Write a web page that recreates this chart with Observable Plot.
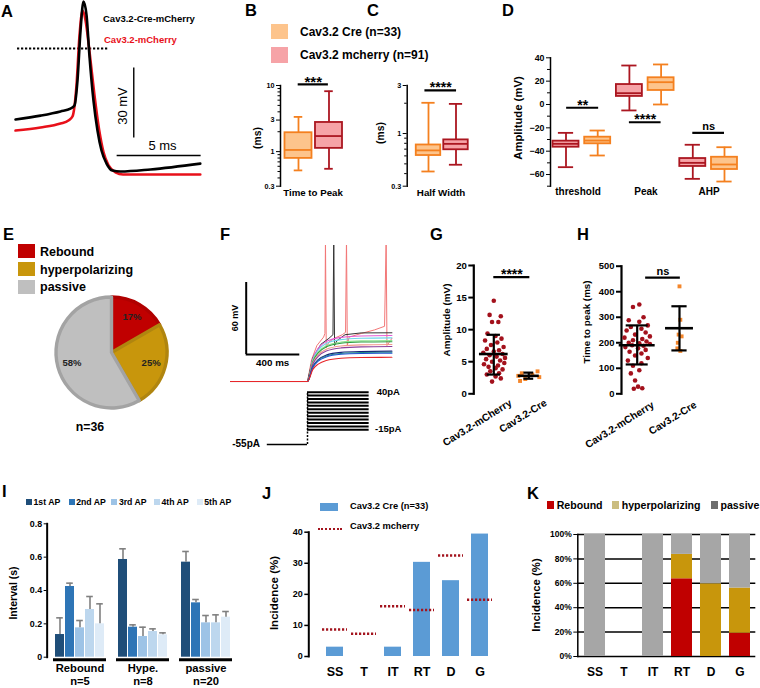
<!DOCTYPE html>
<html>
<head>
<meta charset="utf-8">
<script src="https://cdn.jsdelivr.net/npm/d3@7"></script>
<script src="https://cdn.jsdelivr.net/npm/@observablehq/plot@0.6"></script>
<style>
html,body{margin:0;padding:0;background:#fff;}
#fig{position:relative;width:760px;height:688px;overflow:hidden;background:#fff;font-family:"Liberation Sans",Arial,Helvetica,sans-serif;font-weight:bold;color:#000;}
</style>
</head>
<body>
<div id="fig"></div>
<script>
// ======================= DATA =======================
// A: action potential waveforms (time in ms, membrane potential in mV)
const apTimeCre = [0, 1.49, 2.68, 3.27, 3.51, 3.69, 3.87, 4.05, 4.23, 4.40, 4.64, 4.88, 5.12, 5.42, 5.77, 6.25, 8.04, 11.0];
const apVoltCre = [-30.5, -28.8, -27.0, -25.8, -24.5, -13.7, 7.7, 20.2, 14.2, -3.0, -22.3, -35.2, -43.8, -49.4, -52.4, -52.8, -51.9, -49.4];
const apTimeMch = [0, 1.49, 2.68, 3.15, 3.39, 3.63, 3.81, 3.99, 4.17, 4.40, 4.70, 4.98, 5.24, 5.54, 5.95, 6.40, 8.04, 11.0];
const apVoltMch = [-35.2, -33.9, -32.2, -30.9, -29.2, -15.9, 5.6, 16.3, 12.0, -1.0, -20.0, -35.0, -44.6, -50.2, -53.2, -54.1, -54.1, -54.1];

// B, C: box plots (Cre, mcherry)
const boxGroups = ["Cav3.2 Cre", "Cav3.2 mcherry"];
const ttpMin = [0.52, 0.55], ttpQ1 = [0.79, 1.12], ttpMed = [1.06, 1.72], ttpQ3 = [1.93, 2.76], ttpMax = [3.35, 8.2];
const hwMin = [0.42, 0.49], hwQ1 = [0.605, 0.69], hwMed = [0.68, 0.79], hwQ3 = [0.77, 0.865], hwMax = [2.02, 1.97];

// D: amplitude box plots per parameter
const dParams = ["threshold", "Peak", "AHP"];
const dMchMin = [-53.7, -5.1, -63.7], dMchQ1 = [-36.6, 6.9, -53.1], dMchMed = [-33.7, 9.7, -50.0], dMchQ3 = [-31.4, 17.1, -46.3], dMchMax = [-24.3, 33.4, -34.5];
const dCreMin = [-43.7, 0.0, -66.0], dCreQ1 = [-33.7, 12.0, -55.7], dCreMed = [-30.9, 19.1, -51.4], dCreQ3 = [-28.0, 22.9, -45.2], dCreMax = [-22.3, 34.3, -36.6];

// E: pie
const pieLabels = ["Rebound", "hyperpolarizing", "passive"];
const pieCounts = [6, 9, 21];

// F: voltage responses (time ms, mV) and current steps (pA)
const fStepTime = [25, 600, 640, 680, 740, 850, 1000, 1230];
const fStepMagenta = [-80, -80, -60.9, -52.4, -46.7, -43.2, -42.1, -41.7];
const fStepCyan    = [-80, -80, -61.8, -53.8, -48.3, -45.1, -44.0, -43.6];
const fStepLime    = [-80, -80, -62.9, -55.4, -50.2, -47.2, -46.1, -45.8];
const fStepGreen   = [-80, -80, -63.4, -56.1, -51.1, -48.1, -47.1, -46.8];
const fStepSalmon  = [-80, -80, -64.6, -57.8, -53.2, -50.4, -49.5, -49.2];
const fStepPurple  = [-80, -80, -65.4, -59.0, -54.6, -52.0, -51.1, -50.8];
const fStepNavy    = [-80, -80, -67.4, -61.8, -58.0, -55.7, -55.0, -54.7];
const fStepTeal    = [-80, -80, -67.8, -62.4, -58.8, -56.6, -55.8, -55.6];
const fStepBlue    = [-80, -80, -68.2, -63.0, -59.5, -57.3, -56.6, -56.4];
const fStepRed     = [-80, -80, -69.9, -65.5, -62.4, -60.6, -60.0, -59.8];
const fSpikeTimeA = [25, 600, 630, 670, 720, 730, 734, 740, 760, 800, 860, 884, 891, 897, 910, 1000, 1100, 1175, 1187, 1193, 1230];
const fSpikeVoltA = [-80, -80, -62, -50, -43, -40, 40, -52, -47, -44, -41, -39, 40, -50, -43, -40, -37, -34, 40, -50, -44];
const fSpikeTimeB = [25, 600, 640, 700, 760, 790, 796, 802, 820, 880, 1000, 1230];
const fSpikeVoltB = [-80, -80, -60, -49, -44, -41, 40, -50, -46, -41, -39.5, -39.4];
const fCurrentLevels = [-15, -10, -5, 0, 5, 10, 15, 20, 25, 30, 35, 40];
const fHoldCurrent = -55;

// G, H: scatter with mean ± SD
const ghGroups = ["Cav3.2-mCherry", "Cav3.2-Cre"];
const gAmpMch = [14.5, 12.3, 12.1, 11.2, 11.2, 9.4, 9.0, 8.6, 8.3, 8.0, 7.6, 7.3, 7.0, 6.8, 6.6, 6.4, 6.2, 6.0, 5.8, 5.6, 5.4, 5.2, 5.0, 4.8, 4.6, 4.4, 4.2, 4.0, 3.8, 3.5, 3.2, 3.0, 2.7, 2.4, 1.9];
const gJitMch = [0, -0.12, 0.2, -0.05, 0.13, -0.18, 0.05, 0.22, -0.25, 0.1, -0.08, 0.28, -0.2, 0.15, 0, -0.3, 0.25, -0.12, 0.08, 0.32, -0.22, 0.18, -0.05, 0.3, -0.28, 0.12, -0.15, 0.05, 0.25, -0.1, 0.15, -0.2, 0.05, 0.2, -0.05];
const gAmpCre = [3.5, 3.2, 3.0, 2.8, 2.6, 2.3, 2.0];
const gJitCre = [0.25, -0.2, 0.1, -0.3, 0.3, -0.1, -0.25];
const gMean = [6.2, 2.8], gLow = [3.0, 2.35], gHigh = [9.2, 3.3];
const hTtpMch = [350, 340, 300, 288, 282, 268, 262, 255, 248, 240, 232, 225, 220, 215, 210, 205, 200, 198, 195, 190, 188, 183, 178, 172, 165, 158, 150, 140, 130, 120, 110, 92, 80, 52, 28, 22, 20];
const hJitMch = [0.05, -0.1, 0.15, -0.2, 0.05, 0.25, -0.15, 0.1, -0.25, 0.2, -0.05, 0.3, -0.3, 0.12, -0.1, 0.22, -0.2, 0.05, 0.3, -0.12, 0.15, -0.28, 0.02, 0.2, -0.18, 0.1, -0.05, 0.25, -0.22, 0.1, -0.1, 0.05, -0.15, -0.05, 0.02, 0.12, -0.08];
const hTtpCre = [421, 290, 232, 225, 200, 178, 168];
const hJitCre = [0, 0.02, -0.02, 0.05, -0.04, -0.05, 0.02];
const hMean = [190, 257], hLow = [115, 170], hHigh = [268, 343];

// I: inter-spike intervals (s)
const groupsI = ["Rebound", "Hype.", "passive"];
const nI = [5, 8, 20];
const apNames = ["1st AP", "2nd AP", "3rd AP", "4th AP", "5th AP"];
const intRebound = [0.136, 0.424, 0.176, 0.286, 0.200], errRebound = [0.100, 0.020, 0.044, 0.078, 0.120];
const intHype    = [0.586, 0.180, 0.124, 0.154, 0.134], errHype    = [0.064, 0.014, 0.056, 0.016, 0.012];
const intPassive = [0.570, 0.326, 0.206, 0.206, 0.240], errPassive = [0.064, 0.020, 0.044, 0.048, 0.034];

// J: incidence (%)
const catsJ = ["SS", "T", "IT", "RT", "D", "G"];
const creJ = [3.0, 0, 3.0, 30.3, 24.4, 39.4];
const mchJ = [8.7, 7.3, 16.2, 15.0, 32.5, 18.3];

// K: stacked incidence (%)
const typesK = ["Rebound", "hyperpolarizing", "passive"];
const reboundK = [0, 0, 0, 63.7, 0, 19.1];
const hyperK   = [0, 0, 0, 20.0, 59.6, 37.0];
const passiveK = [100, 0, 100, 16.3, 40.4, 43.9];

// ======================= STYLE / HELPERS =======================
const CRE_FILL = "#fdc48c", CRE_STROKE = "#f4801f";
const MCH_FILL = "#f6a3a7", MCH_STROKE = "#ab1620";
const fig = document.getElementById("fig");
const FONT = '"Liberation Sans", Arial, Helvetica, sans-serif';

function put(svg, left, top) {
  svg.style.position = "absolute";
  svg.style.left = left + "px";
  svg.style.top = top + "px";
  svg.style.background = "transparent";
  svg.style.overflow = "visible";
  svg.style.maxWidth = "none";
  svg.style.fontFamily = FONT;
  svg.style.fontWeight = "bold";
  fig.appendChild(svg);
  return svg;
}
function txt(s, x, y, o = {}) {
  const d = document.createElement("div");
  d.textContent = s;
  const a = o.anchor || "start";
  const tx = a === "start" ? "0" : a === "end" ? "-100%" : "-50%";
  d.style.cssText = `position:absolute;left:${x}px;top:${y}px;white-space:nowrap;line-height:1;` +
    `font-size:${o.size || 12}px;font-weight:${o.weight || "bold"};color:${o.color || "#000"};` +
    `transform:translate(${tx},-50%)${o.rotate ? ` rotate(${o.rotate}deg)` : ""};`;
  fig.appendChild(d);
}
function swatch(x, y, w, h, color) {
  const d = document.createElement("div");
  d.style.cssText = `position:absolute;left:${x}px;top:${y}px;width:${w}px;height:${h}px;background:${color};`;
  fig.appendChild(d);
}
function dotLine(x, y, w, color) {
  const d = document.createElement("div");
  d.style.cssText = `position:absolute;left:${x}px;top:${y}px;width:${w}px;height:0;border-top:2.5px dotted ${color};`;
  fig.appendChild(d);
}
function boxMarks(row, fill, stroke, half, cap, sw = 1.8) {
  const r = [row];
  return [
    Plot.ruleX(r, {x: "pos", y1: "mn", y2: "q1", stroke, strokeWidth: sw}),
    Plot.ruleX(r, {x: "pos", y1: "q3", y2: "mx", stroke, strokeWidth: sw}),
    Plot.ruleY(r, {y: "mn", x1: d => d.pos - cap, x2: d => d.pos + cap, stroke, strokeWidth: sw}),
    Plot.ruleY(r, {y: "mx", x1: d => d.pos - cap, x2: d => d.pos + cap, stroke, strokeWidth: sw}),
    Plot.rect(r, {x1: d => d.pos - half, x2: d => d.pos + half, y1: "q1", y2: "q3", fill, stroke, strokeWidth: sw}),
    Plot.ruleY(r, {y: "md", x1: d => d.pos - half, x2: d => d.pos + half, stroke, strokeWidth: sw})
  ];
}
function sigMarks(rows, size) {
  const stars = rows.filter(d => d.label !== "ns"), ns = rows.filter(d => d.label === "ns");
  return [
    Plot.ruleY(rows, {y: "y", x1: "x1", x2: "x2", strokeWidth: 2.2}),
    Plot.text(stars, {x: d => (d.x1 + d.x2) / 2, y: "y", text: "label", fontSize: size, dy: -2.5}),
    Plot.text(ns, {x: d => (d.x1 + d.x2) / 2, y: "y", text: "label", fontSize: size - 3, dy: -6.5})
  ];
}
function meanSdMarks(pos, mean, lo, hi, meanHalf, capHalf) {
  const r = [{pos, mean, lo, hi}];
  return [
    Plot.ruleX(r, {x: "pos", y1: "lo", y2: "hi", strokeWidth: 2.2}),
    Plot.ruleY(r, {y: "mean", x1: d => d.pos - meanHalf, x2: d => d.pos + meanHalf, strokeWidth: 2.6}),
    Plot.ruleY(r, {y: "lo", x1: d => d.pos - capHalf, x2: d => d.pos + capHalf, strokeWidth: 2.2}),
    Plot.ruleY(r, {y: "hi", x1: d => d.pos - capHalf, x2: d => d.pos + capHalf, strokeWidth: 2.2})
  ];
}
const zipTV = (t, v) => t.map((tt, i) => ({t: tt, v: v[i]}));

// ======================= PANEL A =======================
put(Plot.plot({
  width: 205, height: 185, margin: 0,
  x: {domain: [-0.893, 11.31], axis: null},
  y: {domain: [-58.8, 20.6], axis: null},
  marks: [
    Plot.ruleY([0], {x1: 0.12, x2: 5.54, strokeWidth: 2.2, strokeDasharray: "2.2,1.8"}),
    Plot.line(zipTV(apTimeMch, apVoltMch), {x: "t", y: "v", stroke: "#e8101a", strokeWidth: 2.6, curve: "monotone-x"}),
    Plot.line(zipTV(apTimeCre, apVoltCre), {x: "t", y: "v", stroke: "#000", strokeWidth: 2.6, curve: "monotone-x"}),
    Plot.ruleX([7.04], {y1: -8.4, y2: -38.4, strokeWidth: 1.4}),
    Plot.ruleY([-45.9], {x1: 6.05, x2: 11.05, strokeWidth: 1.4})
  ]
}), 0, 0);

// ======================= PANEL B =======================
const rowsB = boxGroups.map((g, i) => ({g, pos: i + 1, mn: ttpMin[i], q1: ttpQ1[i], md: ttpMed[i], q3: ttpQ3[i], mx: ttpMax[i]}));
put(Plot.plot({
  width: 120, height: 135, marginLeft: 40, marginRight: 0, marginTop: 15, marginBottom: 19.3,
  x: {domain: [0.41, 3.033], axis: null},
  y: {type: "log", domain: [0.3, 10]},
  marks: [
    Plot.axisY({ticks: [0.4, 0.5, 0.6, 0.7, 0.8, 0.9, 2, 4, 5, 6, 7, 8, 9], tickFormat: () => "", tickSize: 2.5, label: null}),
    Plot.axisY({ticks: [0.3, 1, 3, 10], tickFormat: d => String(d), tickSize: 4, tickPadding: 2, fontSize: 7.2, label: null}),
    Plot.frame({anchor: "left", strokeWidth: 1.5}),
    ...boxMarks(rowsB[0], CRE_FILL, CRE_STROKE, 0.443, 0.14),
    ...boxMarks(rowsB[1], MCH_FILL, MCH_STROKE, 0.443, 0.14),
    ...sigMarks([{x1: 0.99, x2: 1.98, y: 10.4, label: "***"}], 15)
  ]
}), 240, 70);

// ======================= PANEL C =======================
const rowsC = boxGroups.map((g, i) => ({g, pos: i + 1, mn: hwMin[i], q1: hwQ1[i], md: hwMed[i], q3: hwQ3[i], mx: hwMax[i]}));
put(Plot.plot({
  width: 120, height: 135, marginLeft: 40.7, marginRight: 0, marginTop: 15, marginBottom: 19.3,
  x: {domain: [0.2255, 3.109], axis: null},
  y: {type: "log", domain: [0.3, 3]},
  marks: [
    Plot.axisY({ticks: [0.4, 0.5, 0.6, 0.7, 0.8, 0.9, 2], tickFormat: () => "", tickSize: 2.5, label: null}),
    Plot.axisY({ticks: [0.3, 1, 3], tickFormat: d => String(d), tickSize: 4, tickPadding: 2, fontSize: 7.2, label: null}),
    Plot.frame({anchor: "left", strokeWidth: 1.5}),
    ...boxMarks(rowsC[0], CRE_FILL, CRE_STROKE, 0.445, 0.24),
    ...boxMarks(rowsC[1], MCH_FILL, MCH_STROKE, 0.445, 0.24),
    ...sigMarks([{x1: 0.87, x2: 2.02, y: 2.68, label: "****"}], 14)
  ]
}), 366, 70);

// ======================= PANEL D =======================
const dMarks = [];
dParams.forEach((p, j) => {
  dMarks.push(...boxMarks({pos: 2 * j + 1, mn: dMchMin[j], q1: dMchQ1[j], md: dMchMed[j], q3: dMchQ3[j], mx: dMchMax[j]}, MCH_FILL, MCH_STROKE, 0.41, 0.24));
  dMarks.push(...boxMarks({pos: 2 * j + 2, mn: dCreMin[j], q1: dCreQ1[j], md: dCreMed[j], q3: dCreQ3[j], mx: dCreMax[j]}, CRE_FILL, CRE_STROKE, 0.41, 0.24));
});
put(Plot.plot({
  width: 250, height: 160, marginLeft: 40, marginRight: 0, marginTop: 12.3, marginBottom: 19.3,
  x: {domain: [0.511, 7.136], axis: null},
  y: {domain: [-70, 40]},
  marks: [
    Plot.axisY({ticks: [-70, -50, -30, -10, 10, 30], tickFormat: () => "", tickSize: 3, label: null}),
    Plot.axisY({ticks: [-60, -40, -20, 0, 20, 40], tickSize: 4, tickPadding: 2, fontSize: 8.8, label: null}),
    Plot.frame({anchor: "left", strokeWidth: 1.5}),
    ...dMarks,
    ...sigMarks([
      {x1: 1.02, x2: 2.03, y: -2.8, label: "**"},
      {x1: 3.0, x2: 4.0, y: -15.2, label: "****"},
      {x1: 5.0, x2: 6.0, y: -24.3, label: "ns"}
    ], 14)
  ]
}), 510, 45);

// ======================= PANEL E (pie) =======================
const pieFill = ["#c00000", "#c8960c", "#bfbfbf"];
const pieEdge = ["#b00000", "#b0850f", "#a3a3a3"];
function pieRender() {
  const g = d3.create("svg:g").attr("transform", "translate(72.5,72.5)");
  const total = d3.sum(pieCounts);
  const arcs = d3.pie().sort(null)(pieCounts);
  const arc = d3.arc().innerRadius(0).outerRadius(55.5);
  g.selectAll("path").data(arcs).join("path")
    .attr("d", arc).attr("fill", d => pieFill[d.index]).attr("stroke", d => pieEdge[d.index])
    .attr("stroke-width", 3.4).attr("stroke-linejoin", "round");
  const lab = d3.arc().innerRadius(41).outerRadius(41);
  g.selectAll("text").data(arcs).join("text")
    .attr("transform", d => `translate(${lab.centroid(d)})`)
    .attr("text-anchor", "middle").attr("dy", "0.35em")
    .attr("font-size", 9.5).attr("font-weight", "bold").attr("fill", "#222")
    .text(d => Math.round(d.data / total * 100) + "%");
  return g.node();
}
put(Plot.plot({width: 145, height: 145, margin: 0, marks: [pieRender]}), 39.2, 280.2);

// ======================= PANEL F =======================
const fStepSets = [fStepMagenta, fStepCyan, fStepLime, fStepGreen, fStepSalmon, fStepPurple, fStepNavy, fStepTeal, fStepBlue, fStepRed];
const fStepColors = ["#e35bd5", "#6fd5ea", "#8fe38f", "#2ea043", "#f29a8a", "#8e3f9c", "#1b1f7a", "#1e8a84", "#1f4fd1", "#e8262a"];
put(Plot.plot({
  width: 200, height: 140, margin: 0,
  x: {domain: [-198.5, 1294], axis: null},
  y: {domain: [-83.3, 33.3], axis: null},
  marks: [
    Plot.line(zipTV(fSpikeTimeA, fSpikeVoltA), {x: "t", y: "v", stroke: "#f27777", strokeWidth: 1, clip: true}),
    Plot.line(zipTV(fSpikeTimeB, fSpikeVoltB), {x: "t", y: "v", stroke: "#333", strokeWidth: 1, clip: true}),
    ...fStepSets.map((v, i) => Plot.line(zipTV(fStepTime, v), {x: "t", y: "v", stroke: fStepColors[i], strokeWidth: 1.1, curve: "monotone-x"})),
    Plot.ruleX([142.5], {y1: -57.5, y2: 2.5, strokeWidth: 2}),
    Plot.ruleY([-57.5], {x1: 142.5, x2: 542.5, strokeWidth: 2})
  ]
}), 200, 245);
// current steps: the holding-current segment is drawn compressed (axis break) below -15 pA
put(Plot.plot({
  width: 200, height: 70, margin: 0,
  x: {domain: [-198.5, 1294], axis: null},
  y: {transform: d => d < -15 ? -15 + (d + 15) * 0.537 : d, domain: [-36.5, 40], range: [59, 6.7], axis: null},
  marks: [
    Plot.ruleY(fCurrentLevels, {x1: 600, x2: 1060, strokeWidth: 2}),
    Plot.ruleY([fHoldCurrent], {x1: 300, x2: 600, strokeWidth: 1.5}),
    Plot.ruleX([600], {y1: fHoldCurrent, y2: 40, strokeWidth: 1.5, strokeDasharray: "2,1.5"})
  ]
}), 200, 385);

// ======================= PANEL G =======================
const gRowsM = gAmpMch.map((v, i) => ({v, x: 1 + gJitMch[i]}));
const gRowsC = gAmpCre.map((v, i) => ({v, x: 2 + gJitCre[i]}));
put(Plot.plot({
  width: 130, height: 200, marginLeft: 43.3, marginRight: 0, marginTop: 10, marginBottom: 61.7,
  x: {domain: [0.4286, 2.906]},
  y: {domain: [0, 20]},
  marks: [
    Plot.frame({anchor: "left", strokeWidth: 2.2}),
    Plot.axisY({ticks: [0, 5, 10, 15, 20], tickSize: 5, tickPadding: 2, fontSize: 9.6, strokeWidth: 2, label: null}),
    Plot.axisX({ticks: [1, 2], tickFormat: d => ghGroups[d - 1], tickRotate: -32, tickSize: 0, tickPadding: 8, dx: 17, fontSize: 10.3, label: null}),
    Plot.dot(gRowsM, {x: "x", y: "v", r: 2.3, fill: "#a3111c"}),
    Plot.dot(gRowsC, {x: "x", y: "v", r: 2.2, fill: "#f4862b", symbol: "square"}),
    ...meanSdMarks(1, gMean[0], gLow[0], gHigh[0], 0.41, 0.19),
    ...meanSdMarks(2, gMean[1], gLow[1], gHigh[1], 0.3, 0.14),
    ...sigMarks([{x1: 1.0, x2: 2.03, y: 18.2, label: "****"}], 14)
  ]
}), 430, 255);

// ======================= PANEL H =======================
const hRowsM = hTtpMch.map((v, i) => ({v, x: 1 + hJitMch[i]}));
const hRowsC = hTtpCre.map((v, i) => ({v, x: 2 + hJitCre[i]}));
put(Plot.plot({
  width: 130, height: 200, marginLeft: 41, marginRight: 0, marginTop: 10.7, marginBottom: 61.7,
  x: {domain: [0.629, 2.733]},
  y: {domain: [0, 500]},
  marks: [
    Plot.frame({anchor: "left", strokeWidth: 2.2}),
    Plot.axisY({ticks: [0, 100, 200, 300, 400, 500], tickSize: 5, tickPadding: 2, fontSize: 9.4, strokeWidth: 2, label: null}),
    Plot.axisX({ticks: [1, 2], tickFormat: d => ghGroups[d - 1], tickRotate: -32, tickSize: 0, tickPadding: 10, dx: 16, fontSize: 10.3, label: null}),
    Plot.dot(hRowsM, {x: "x", y: "v", r: 2.3, fill: "#a3111c"}),
    Plot.dot(hRowsC, {x: "x", y: "v", r: 2.2, fill: "#f4862b", symbol: "square"}),
    ...meanSdMarks(1, hMean[0], hLow[0], hHigh[0], 0.425, 0.26),
    ...meanSdMarks(2, hMean[1], hLow[1], hHigh[1], 0.33, 0.18),
    ...sigMarks([{x1: 1.2, x2: 2.02, y: 455, label: "ns"}], 14)
  ]
}), 580, 255);

// ======================= PANEL I =======================
const apColors = ["#1f4e79", "#2e75b6", "#9dc3e6", "#bdd7ee", "#deebf7"];
const intSets = [intRebound, intHype, intPassive], errSets = [errRebound, errHype, errPassive];
const rowsI = [];
groupsI.forEach((g, gi) => apNames.forEach((a, ai) => rowsI.push({g, a, m: intSets[gi][ai], e: errSets[gi][ai]})));
put(Plot.plot({
  width: 240, height: 178, marginLeft: 46, marginRight: 1.3, marginTop: 13.3, marginBottom: 31.3,
  fx: {domain: groupsI, paddingInner: 0.165, paddingOuter: 0.1},
  x: {domain: apNames, paddingInner: 0.13, paddingOuter: 0.04, axis: null},
  y: {domain: [0, 0.8]},
  color: {domain: apNames, range: apColors},
  marks: [
    Plot.barY(rowsI, {fx: "g", x: "a", y: "m", fill: "a"}),
    Plot.ruleX(rowsI, {fx: "g", x: "a", y1: "m", y2: d => d.m + d.e, stroke: "#808080", strokeWidth: 1.6}),
    Plot.tickY(rowsI, {fx: "g", x: "a", y: d => d.m + d.e, stroke: "#808080", strokeWidth: 1.6, insetLeft: 1.2, insetRight: 1.2}),
    Plot.ruleY([0], {strokeWidth: 3, dy: 2.5}),
    Plot.frame({anchor: "left", strokeWidth: 2, dx: -6.35, facetAnchor: "left"}),
    Plot.axisY({ticks: [0, 0.2, 0.4, 0.6, 0.8], tickFormat: d => d === 0 ? "0" : d.toFixed(1), tickSize: 3, tickPadding: 2, fontSize: 8.9, dx: -6.35, label: null}),
    Plot.axisFx({anchor: "bottom", tickSize: 0, tickPadding: 6.4, fontSize: 11.2, lineHeight: 1.1,
      tickFormat: d => `${d}\nn=${nI[groupsI.indexOf(d)]}`, label: null})
  ]
}), 0, 510);

// ======================= PANEL J =======================
put(Plot.plot({
  width: 240, height: 168, marginLeft: 38.3, marginRight: 4.8, marginTop: 11.7, marginBottom: 32,
  x: {domain: catsJ, paddingInner: 0.43, paddingOuter: 0.497},
  y: {domain: [0, 40]},
  marks: [
    Plot.barY(catsJ.map((c, i) => ({c, v: creJ[i]})), {x: "c", y: "v", fill: "#5b9bd5"}),
    Plot.tickY(catsJ.map((c, i) => ({c, v: mchJ[i]})), {x: "c", y: "v", stroke: "#a3141e", strokeWidth: 2.5, strokeDasharray: "2.2,1.8", insetLeft: -4, insetRight: -4}),
    Plot.frame({anchor: "left", strokeWidth: 2}),
    Plot.axisY({ticks: [0, 10, 20, 30, 40], tickSize: 4, tickPadding: 2, fontSize: 9, strokeWidth: 1.5, label: null}),
    Plot.axisX({tickSize: 0, tickPadding: 11, fontSize: 12.5, label: null})
  ]
}), 270, 520);

// ======================= PANEL K =======================
const rowsK = [];
catsJ.forEach((c, i) => {
  rowsK.push({c, type: "Rebound", v: reboundK[i]});
  rowsK.push({c, type: "hyperpolarizing", v: hyperK[i]});
  rowsK.push({c, type: "passive", v: passiveK[i]});
});
put(Plot.plot({
  width: 220, height: 168, marginLeft: 37.3, marginRight: 4.7, marginTop: 14, marginBottom: 32,
  x: {domain: catsJ, paddingInner: 0.293, paddingOuter: 0.184},
  y: {domain: [0, 100]},
  color: {domain: typesK, range: ["#c00000", "#c8960c", "#a6a6a6"]},
  marks: [
    Plot.ruleY([0, 20, 40, 60, 80, 100], {strokeWidth: 1.5}),
    Plot.barY(rowsK, {x: "c", y: "v", fill: "type"}),
    Plot.frame({anchor: "left", strokeWidth: 1.5}),
    Plot.axisY({ticks: [0, 20, 40, 60, 80, 100], tickFormat: d => d + "%", tickSize: 4, tickPadding: 2, fontSize: 8.5, label: null}),
    Plot.axisX({tickSize: 0, tickPadding: 11, fontSize: 12, label: null})
  ]
}), 540, 520);

// ======================= TEXT, LEGENDS =======================
const L = 16.5;
txt("A", 1, 11, {size: L}); txt("B", 245, 10, {size: L}); txt("C", 367, 10, {size: L}); txt("D", 502, 10, {size: L});
txt("E", 3, 233.5, {size: L}); txt("F", 220, 233.5, {size: L}); txt("G", 430, 233.5, {size: L}); txt("H", 577, 234, {size: L});
txt("I", 2, 491, {size: L}); txt("J", 262, 493, {size: L}); txt("K", 527, 492.5, {size: L});

// A
txt("Cav3.2-Cre-mCherry", 103, 18.5, {size: 9.5});
txt("Cav3.2-mCherry", 104, 39.5, {size: 9.5, color: "#e8101a"});
txt("30 mV", 122, 105.5, {size: 13, weight: "normal", rotate: -90, anchor: "middle"});
txt("5 ms", 162.5, 145, {size: 13, weight: "normal", anchor: "middle"});
// B, C legend + labels
swatch(271, 24, 16.7, 15.3, CRE_FILL); txt("Cav3.2 Cre (n=33)", 300, 32, {size: 12});
swatch(271, 46.7, 16.7, 16, MCH_FILL); txt("Cav3.2 mcherry (n=91)", 300, 54.5, {size: 12});
txt("(ms)", 258, 138, {size: 10.3, rotate: -90, anchor: "middle"});
txt("Time to Peak", 313, 192.7, {size: 9.7, anchor: "middle"});
txt("(ms)", 380.5, 133, {size: 10.3, rotate: -90, anchor: "middle"});
txt("Half Width", 441, 193, {size: 9.8, anchor: "middle"});
// D
txt("Amplitude (mV)", 519, 118, {size: 11.3, rotate: -90, anchor: "middle"});
txt(dParams[0], 578, 192, {size: 10, anchor: "middle"});
txt(dParams[1], 646, 192, {size: 10, anchor: "middle"});
txt(dParams[2], 709, 192, {size: 10, anchor: "middle"});
// E
swatch(18, 244, 17, 14, pieFill[0]); txt(pieLabels[0], 40, 252, {size: 12.5});
swatch(18, 262, 17, 14, pieFill[1]); txt(pieLabels[1], 40, 270, {size: 12.5});
swatch(18, 279.5, 17, 14.5, pieFill[2]); txt(pieLabels[2], 40, 287, {size: 12.5});
txt("n=36", 90, 426.7, {size: 12.3, anchor: "middle"});
// F
txt("60 mV", 235, 318, {size: 9, rotate: -90, anchor: "middle"});
txt("400 ms", 272.7, 363.3, {size: 9.8, anchor: "middle"});
txt("40pA", 376.7, 391.7, {size: 9.5});
txt("-15pA", 375, 429.3, {size: 9.5});
txt("-55pA", 260, 443.5, {size: 10, anchor: "end"});
// G, H
txt("Amplitude (mV)", 446.7, 320, {size: 9.9, rotate: -90, anchor: "middle"});
txt("Time to peak (ms)", 586.7, 321.7, {size: 9.8, rotate: -90, anchor: "middle"});
// I
txt("Interval (s)", 13.3, 593.3, {size: 10.5, rotate: -90, anchor: "middle"});
const iLegX = [26, 68.7, 111.4, 154, 196.7];
apNames.forEach((a, i) => { swatch(iLegX[i], 499, 6, 6, apColors[i]); txt(a, iLegX[i] + 7.5, 502.3, {size: 8.7}); });
// J
swatch(320, 502.7, 18.3, 8, "#5b9bd5"); txt("Cav3.2 Cre (n=33)", 350, 506.7, {size: 9.3});
dotLine(318.3, 528, 23.4, "#a3141e"); txt("Cav3.2 mcherry", 350, 527.3, {size: 9.3});
txt("Incidence (%)", 275, 593.3, {size: 11.5, rotate: -90, anchor: "middle"});
// K
swatch(546.7, 500.7, 7.3, 8.6, "#c00000"); txt("Rebound", 556.7, 505, {size: 10.6});
swatch(611.7, 500.7, 7.3, 8.6, "#cbbd80"); txt("hyperpolarizing", 621.7, 505, {size: 10.6});
swatch(711, 500.7, 7.3, 8.6, "#6e6e6e"); txt("passive", 720.5, 505, {size: 10.6});
txt("Incidence (%)", 536.7, 595, {size: 11.4, rotate: -90, anchor: "middle"});
</script>
</body>
</html>
